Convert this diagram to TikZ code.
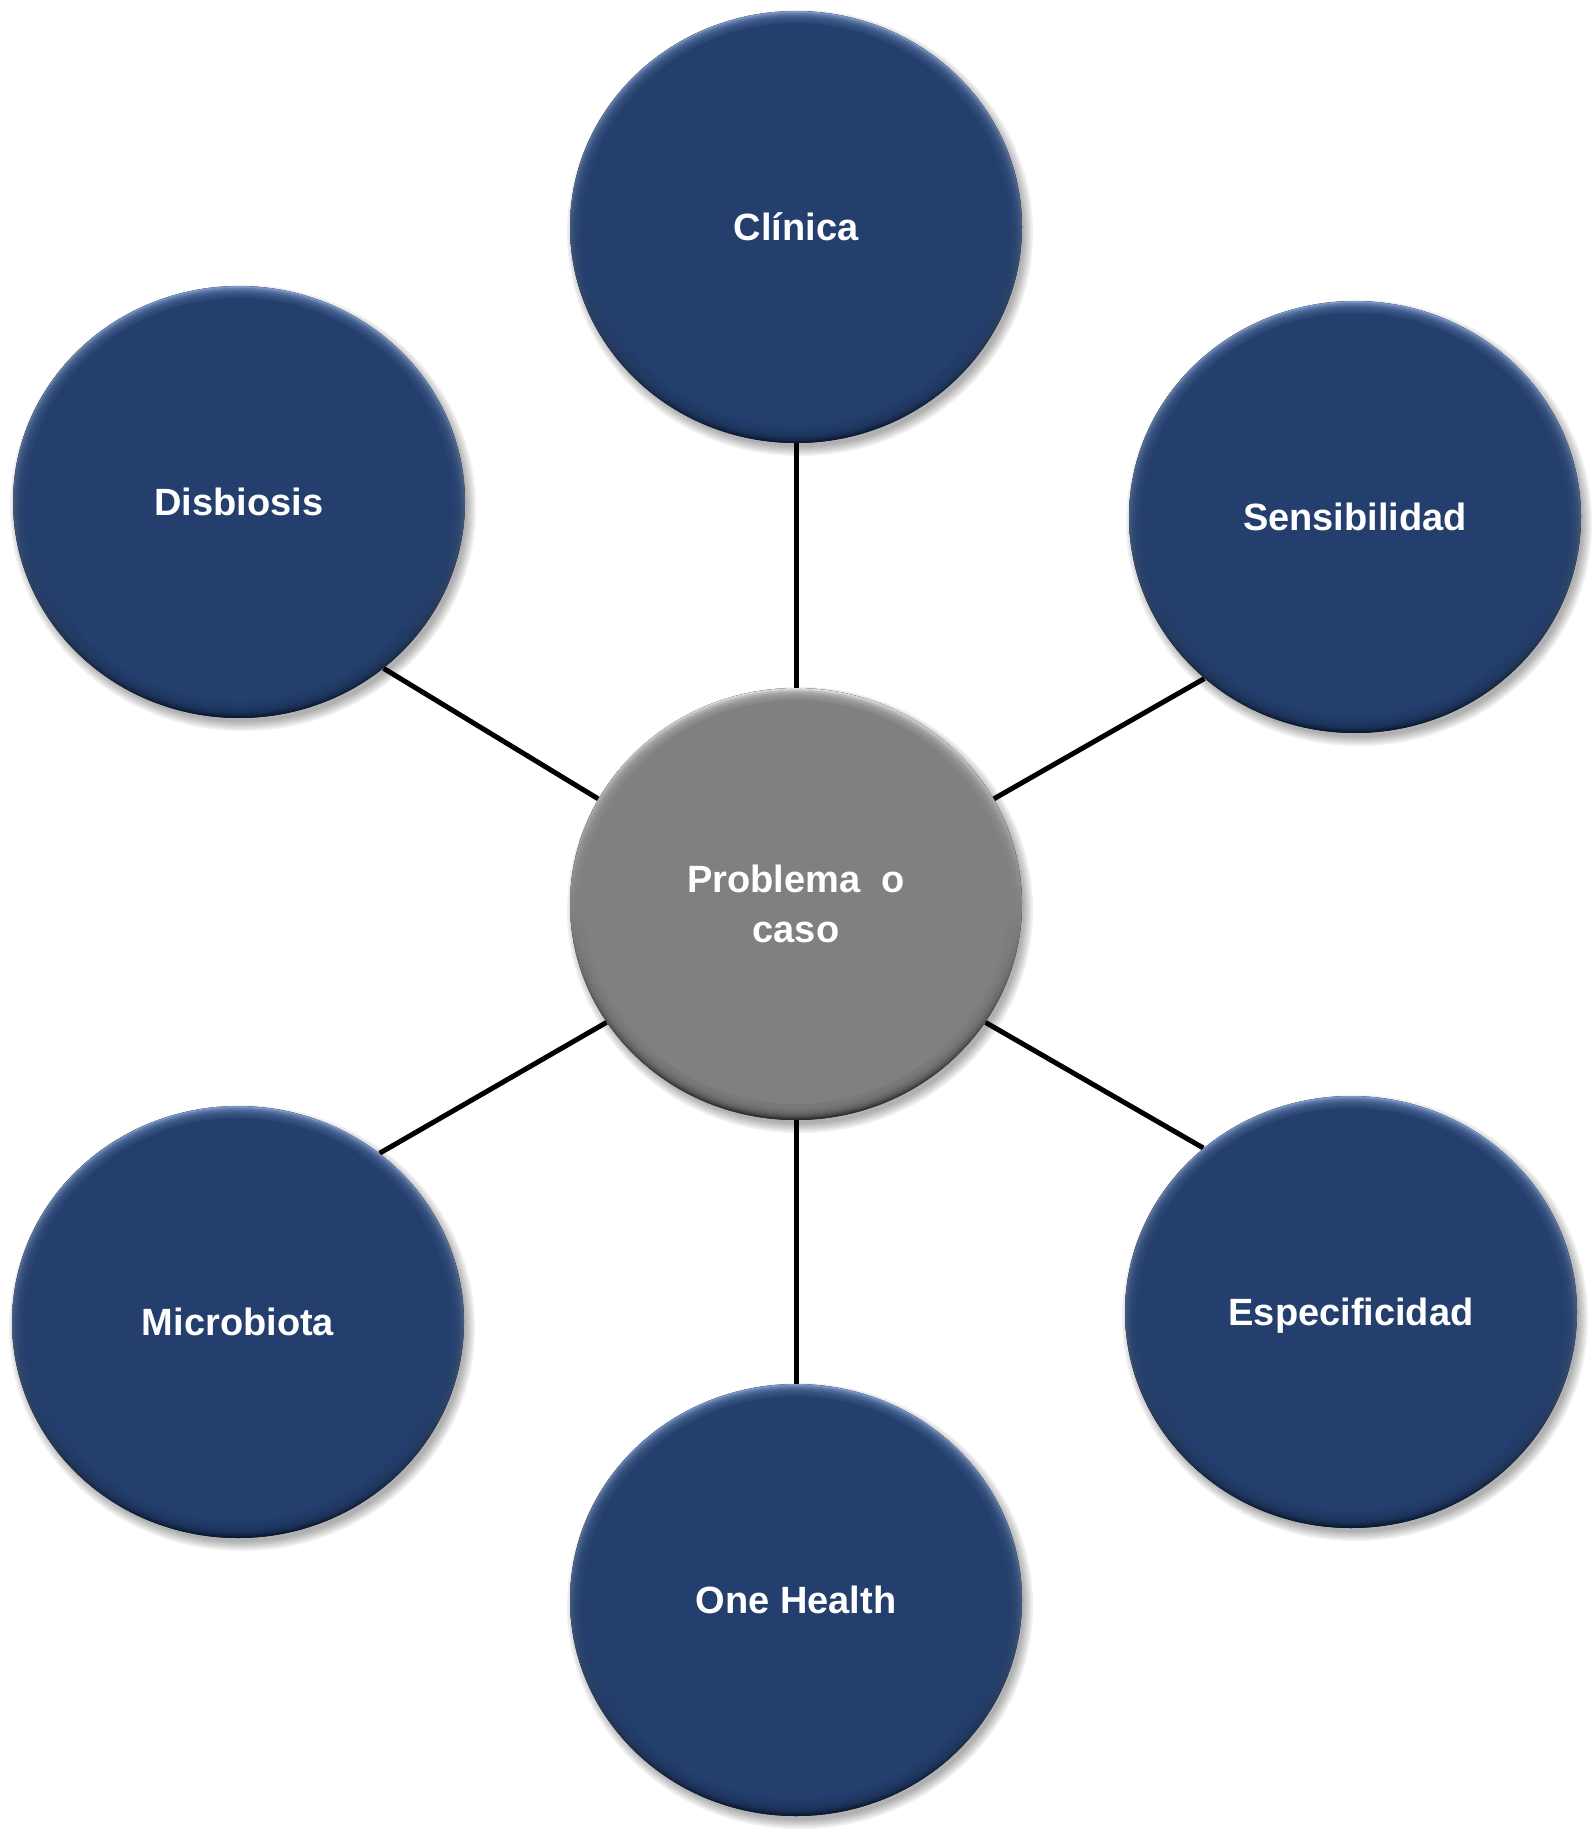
\documentclass[tikz,border=0pt]{standalone}
\usepackage{fontspec}
\setmainfont{Liberation Sans}
\usetikzlibrary{shapes.geometric}
\pgfdeclarelayer{bg}
\pgfdeclarelayer{fills}
\pgfsetlayers{bg,fills,main}
\definecolor{bluebase}{HTML}{243F6D}
\definecolor{bluelight}{HTML}{7B98C8}
\definecolor{bluedark}{HTML}{0B1A34}
\definecolor{graybase}{HTML}{808080}
\definecolor{graylight}{HTML}{DADADA}
\definecolor{graydark}{HTML}{2E2E2E}
\tikzset{
  bub/.style={ellipse, minimum width=226pt, minimum height=216pt, inner sep=0pt,
    text=white, font=\fontsize{19}{25}\selectfont\bfseries, align=center, text depth=0pt},
  spoke/.style={line width=2.5pt, black},
}
\newcommand\drawbub[4]{%
  \foreach \k in {0,...,5}{\fill[black,opacity=0.06] ([xshift=2pt,yshift=-3pt]#1.center) ellipse [x radius={112pt+\k*0.9pt}, y radius={107pt+\k*0.9pt}];}
  \fill[top color=#3, bottom color=#4] (#1.center) ellipse [x radius=113pt, y radius=108pt];
  \foreach \k in {1,...,7}{\fill[#2,opacity=0.3] (#1.center) ellipse [x radius={113pt-\k*0.9pt}, y radius={108pt-\k*0.9pt}];}
  \fill[#2] ([yshift=1pt]#1.center) ellipse [x radius=106pt, y radius=101pt];
}
\begin{document}
\begin{tikzpicture}[x=0.5pt,y=-0.5pt]
\useasboundingbox (0,0) rectangle (1594,1840);
\node[bub] (cli) at (796,227) {Clínica};
\node[bub] (dis) at (239,502) {Disbiosis};
\node[bub] (sen) at (1355,517) {Sensibilidad};
\node[bub] (cen) at (796,904) {Problema~~o\\caso};
\node[bub] (mic) at (238,1322) {Microbiota};
\node[bub] (esp) at (1351,1312) {Especificidad};
\node[bub] (one) at (796,1600) {One Health};
\begin{pgfonlayer}{fills}
  \drawbub{cli}{bluebase}{bluelight}{bluedark}
  \drawbub{dis}{bluebase}{bluelight}{bluedark}
  \drawbub{sen}{bluebase}{bluelight}{bluedark}
  \drawbub{mic}{bluebase}{bluelight}{bluedark}
  \drawbub{esp}{bluebase}{bluelight}{bluedark}
  \drawbub{one}{bluebase}{bluelight}{bluedark}
  \drawbub{cen}{graybase}{graylight}{graydark}
\end{pgfonlayer}
\begin{pgfonlayer}{bg}
  \draw[spoke] (cen.90) -- (cli.270);
  \draw[spoke] (cen.152) -- (dis.311);
  \draw[spoke] (cen.28) -- (sen.227);
  \draw[spoke] (cen.212) -- (mic.50);
  \draw[spoke] (cen.328) -- (esp.132);
  \draw[spoke] (cen.270) -- (one.90);
\end{pgfonlayer}
\end{tikzpicture}
\end{document}
